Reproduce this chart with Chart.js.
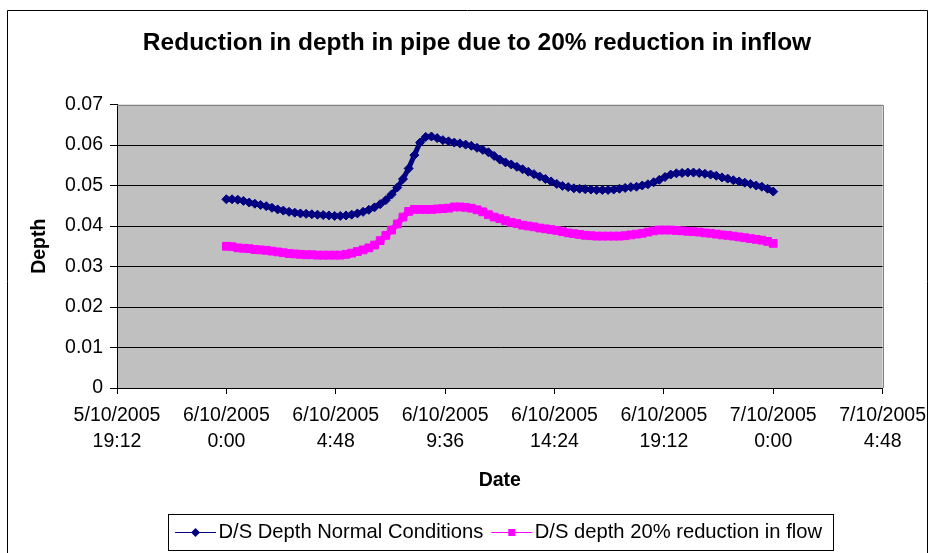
<!DOCTYPE html>
<html>
<head>
<meta charset="utf-8">
<title>Reduction in depth in pipe</title>
<script src="https://cdn.jsdelivr.net/npm/chart.js@4.4.0/dist/chart.umd.min.js"></script>
<style>
  html, body { margin: 0; padding: 0; background: #fff; }
</style>
</head>
<body>
<canvas id="chart" width="935" height="553"></canvas>
<script>
const chartTitle = 'Reduction in depth in pipe due to 20% reduction in inflow';
const seriesNames = ['D/S Depth Normal Conditions', 'D/S depth 20% reduction in flow'];

// readings every 15 minutes from 6/10/2005 0:00 to 7/10/2005 0:00 (x in minutes)
const startMinute = 0;
const stepMinutes = 15;

const normalDepth = [
  0.0466, 0.0466, 0.0465, 0.0462, 0.0458, 0.0455, 0.0452, 0.0449, 0.0445, 0.0441, 0.0438, 0.0435,
  0.0433, 0.0431, 0.0430, 0.0429, 0.0428, 0.0427, 0.0426, 0.0425, 0.0425, 0.0426, 0.0428, 0.0431,
  0.0435, 0.0440, 0.0446, 0.0454, 0.0464, 0.0478, 0.0495, 0.0516, 0.0542, 0.0575, 0.0606, 0.0620,
  0.0621, 0.0617, 0.0612, 0.0609, 0.0606, 0.0604, 0.0601, 0.0598, 0.0593, 0.0588, 0.0582, 0.0573,
  0.0564, 0.0557, 0.0552, 0.0546, 0.0540, 0.0534, 0.0528, 0.0522, 0.0516, 0.0510, 0.0504, 0.0499,
  0.0496, 0.0493, 0.0492, 0.0491, 0.0490, 0.0489, 0.0489, 0.0489, 0.0490, 0.0492, 0.0494, 0.0496,
  0.0497, 0.0500, 0.0503, 0.0508, 0.0514, 0.0521, 0.0527, 0.0530, 0.0531, 0.0532, 0.0532, 0.0531,
  0.0529, 0.0527, 0.0524, 0.0520, 0.0517, 0.0513, 0.0510, 0.0507, 0.0504, 0.0500, 0.0497, 0.0492,
  0.0485
];

const reducedDepth = [
  0.0350, 0.0349, 0.0346, 0.0345, 0.0344, 0.0342, 0.0341, 0.0340, 0.0338, 0.0336, 0.0334, 0.0332,
  0.0331, 0.0330, 0.0329, 0.0329, 0.0328, 0.0328, 0.0328, 0.0328, 0.0328, 0.0330, 0.0333, 0.0337,
  0.0341, 0.0346, 0.0353, 0.0364, 0.0377, 0.0390, 0.0405, 0.0422, 0.0436, 0.0441, 0.0441, 0.0441,
  0.0441, 0.0442, 0.0443, 0.0444, 0.0447, 0.0447, 0.0446, 0.0444, 0.0440, 0.0435, 0.0428, 0.0422,
  0.0418, 0.0413, 0.0409, 0.0406, 0.0402, 0.0400, 0.0398, 0.0395, 0.0393, 0.0391, 0.0389, 0.0386,
  0.0383, 0.0381, 0.0379, 0.0377, 0.0376, 0.0375, 0.0375, 0.0375, 0.0375, 0.0375, 0.0376, 0.0378,
  0.0380, 0.0382, 0.0385, 0.0388, 0.0390, 0.0390, 0.0390, 0.0389, 0.0388, 0.0387, 0.0386, 0.0385,
  0.0383, 0.0382, 0.0380, 0.0378, 0.0377, 0.0375, 0.0373, 0.0371, 0.0369, 0.0367, 0.0365, 0.0362,
  0.0357
];

const xTicks = [-288, 0, 288, 576, 864, 1152, 1440, 1728];
const xTickLabels = [
  ['5/10/2005', '19:12'], ['6/10/2005', '0:00'], ['6/10/2005', '4:48'], ['6/10/2005', '9:36'],
  ['6/10/2005', '14:24'], ['6/10/2005', '19:12'], ['7/10/2005', '0:00'], ['7/10/2005', '4:48']
];
const yTicks = [0, 0.01, 0.02, 0.03, 0.04, 0.05, 0.06, 0.07];
const yTickLabels = ['0', '0.01', '0.02', '0.03', '0.04', '0.05', '0.06', '0.07'];

const FONT = '"Liberation Sans", Arial, sans-serif';
const toPoints = (arr) => arr.map((v, i) => ({ x: startMinute + i * stepMinutes, y: v }));

// grey plot area, chart frame, title and the boxed Excel-style legend
const excelLook = {
  id: 'excelLook',
  beforeDraw(chart) {
    const { ctx, chartArea: a } = chart;
    ctx.save();
    ctx.fillStyle = '#fff';
    ctx.fillRect(0, 0, chart.width, chart.height);
    ctx.fillStyle = '#c0c0c0';
    ctx.fillRect(a.left, a.top, a.right - a.left, a.bottom - a.top);
    ctx.strokeStyle = '#000';
    ctx.lineWidth = 1;
    ctx.beginPath();
    ctx.moveTo(7.5, chart.height);
    ctx.lineTo(7.5, 10.5);
    ctx.lineTo(927.5, 10.5);
    ctx.lineTo(927.5, chart.height);
    ctx.stroke();
    ctx.restore();
  },
  beforeDatasetsDraw(chart) {
    const { ctx, chartArea: a } = chart;
    ctx.save();
    ctx.strokeStyle = '#808080';
    ctx.lineWidth = 1;
    ctx.beginPath();
    ctx.moveTo(a.left, Math.round(a.top) + 0.5);
    ctx.lineTo(Math.round(a.right) + 0.5, Math.round(a.top) + 0.5);
    ctx.lineTo(Math.round(a.right) + 0.5, a.bottom);
    ctx.stroke();
    ctx.restore();
  },
  afterDraw(chart) {
    const ctx = chart.ctx;
    ctx.save();
    ctx.fillStyle = '#000';
    ctx.font = 'bold 24.5px ' + FONT;
    ctx.textAlign = 'center';
    ctx.textBaseline = 'middle';
    ctx.fillText(chartTitle, 477, 43);

    // legend
    ctx.strokeStyle = '#000';
    ctx.lineWidth = 1;
    ctx.strokeRect(168.5, 514.5, 665, 36);
    ctx.font = '20.2px ' + FONT;
    ctx.textAlign = 'left';
    const y = 532.5;
    let x = 175;
    chart.data.datasets.forEach((ds) => {
      ctx.strokeStyle = ds.borderColor;
      ctx.fillStyle = ds.borderColor;
      ctx.lineWidth = 1;
      ctx.beginPath();
      ctx.moveTo(x, y);
      ctx.lineTo(x + 41, y);
      ctx.stroke();
      const cx = x + 20.5;
      ctx.beginPath();
      if (ds.pointStyle === 'rectRot') {
        ctx.moveTo(cx, y - 4.5);
        ctx.lineTo(cx + 4.5, y);
        ctx.lineTo(cx, y + 4.5);
        ctx.lineTo(cx - 4.5, y);
        ctx.closePath();
      } else {
        ctx.rect(cx - 3.5, y - 3.5, 7, 7);
      }
      ctx.fill();
      ctx.fillStyle = '#000';
      ctx.fillText(ds.label, x + 43.5, y);
      x += 43.5 + ctx.measureText(ds.label).width + 8;
    });
    ctx.restore();
  }
};

new Chart(document.getElementById('chart'), {
  type: 'line',
  data: {
    datasets: [
      {
        label: seriesNames[0],
        data: toPoints(normalDepth),
        borderColor: '#000080',
        backgroundColor: '#000080',
        borderWidth: 5,
        pointStyle: 'rectRot',
        pointRadius: 4.5,
        pointBorderWidth: 1,
        tension: 0
      },
      {
        label: seriesNames[1],
        data: toPoints(reducedDepth),
        borderColor: '#ff00ff',
        backgroundColor: '#ff00ff',
        borderWidth: 6,
        pointStyle: 'rect',
        pointRadius: 5.5,
        pointBorderWidth: 1,
        tension: 0
      }
    ]
  },
  options: {
    responsive: false,
    animation: false,
    devicePixelRatio: 1,
    layout: { padding: { left: 20, right: 52, top: 104.5, bottom: 53 } },
    plugins: {
      legend: { display: false },
      title: { display: false },
      tooltip: { enabled: false }
    },
    scales: {
      x: {
        type: 'linear',
        min: -288,
        max: 1728,
        afterBuildTicks: (s) => { s.ticks = xTicks.map((v) => ({ value: v })); },
        afterFit: (s) => { s.height = 112; },
        ticks: {
          callback: (v, i) => xTickLabels[i],
          maxRotation: 0,
          autoSkip: false,
          padding: 9,
          color: '#000',
          font: { family: FONT, size: 19.5, lineHeight: 1.333 }
        },
        grid: { drawOnChartArea: false, tickLength: 6, color: '#000' },
        border: { color: '#000', width: 1 },
        title: {
          display: true,
          text: 'Date',
          color: '#000',
          font: { family: FONT, size: 19.5, weight: 'bold' },
          padding: { top: 0, bottom: 8 }
        }
      },
      y: {
        min: 0,
        max: 0.07,
        afterBuildTicks: (s) => { s.ticks = yTicks.map((v) => ({ value: v })); },
        afterFit: (s) => { s.width = 97; },
        ticks: {
          callback: (v, i) => yTickLabels[i],
          padding: 7,
          color: '#000',
          font: { family: FONT, size: 19.5 }
        },
        grid: {
          color: (c) => (c.tick && c.tick.value === 0.07 ? 'rgba(0,0,0,0)' : '#000'),
          tickColor: '#000',
          tickLength: 7
        },
        border: { color: '#000', width: 1 },
        title: {
          display: true,
          text: 'Depth',
          color: '#000',
          font: { family: FONT, size: 19.5, weight: 'bold' },
          padding: { top: 8, bottom: 0 }
        }
      }
    }
  },
  plugins: [excelLook]
});
</script>
</body>
</html>
